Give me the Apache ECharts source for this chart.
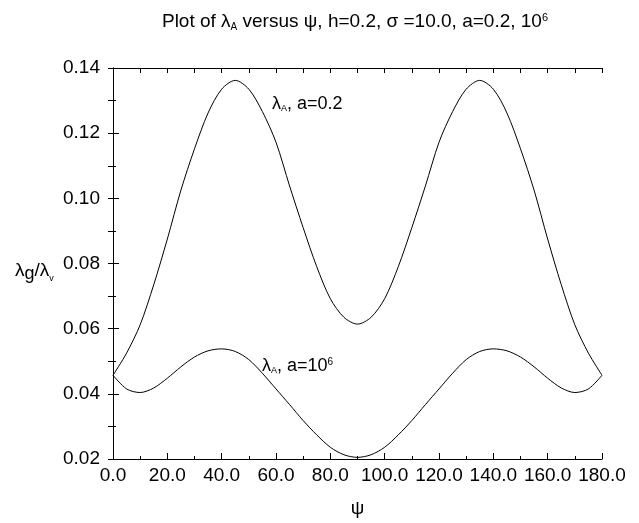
<!DOCTYPE html>
<html>
<head>
<meta charset="utf-8">
<script src="https://cdn.jsdelivr.net/npm/echarts@6/dist/echarts.min.js"></script>
<style>html,body{margin:0;padding:0;background:#fff}#c{width:639px;height:523px}</style>
</head>
<body>
<div id="c"></div>
<script>
// psi values (degrees) for the first half; the curves are symmetric about 90
const psiHalf = [0,5,10,15,20,25,30,35,40,45,50,55,60,65,70,75,80,85,90];
// lambda_A, a=0.2
const upperHalf = [0.0457,0.0525,0.0612,0.0735,0.0875,0.1025,0.1152,0.1262,0.1335,0.1362,0.1335,0.1266,0.1172,0.1038,0.0910,0.0790,0.0692,0.0635,0.0614];
// lambda_A, a=10^6
const lowerHalf = [0.0457,0.0415,0.0404,0.0418,0.0448,0.0483,0.0513,0.0532,0.0538,0.0530,0.0505,0.0463,0.0415,0.0367,0.0318,0.0274,0.0236,0.0213,0.0205];
const xTicks = [0,20,40,60,80,100,120,140,160,180];
const yTicks = [0.02,0.04,0.06,0.08,0.10,0.12,0.14];

function full(vals){
  const pts = psiHalf.map((p,i)=>[p, vals[i]]);
  for (let i = psiHalf.length-2; i >= 0; i--) pts.push([180-psiHalf[i], vals[i]]);
  return pts;
}

const FONT = 'Liberation Sans';
const chart = echarts.init(document.getElementById('c'), null, {renderer:'canvas'});
const axisLine = {show:true, lineStyle:{color:'#000', width:1}};
chart.setOption({
  animation:false,
  backgroundColor:'#fff',
  grid:{left:113, top:68, width:489, height:406},
  xAxis:[{
    type:'value', min:0, max:180, interval:20, position:'bottom',
    axisLine:axisLine,
    axisTick:{show:true, inside:true, length:6, lineStyle:{color:'#000'}},
    minorTick:{show:true, splitNumber:2, length:3, lineStyle:{color:'#000'}},
    splitLine:{show:false},
    axisLabel:{color:'#000', fontFamily:FONT, fontSize:19, margin:7, formatter:v=>v.toFixed(1)},
    name:'ψ', nameLocation:'middle', nameGap:40,
    nameTextStyle:{color:'#000', fontFamily:FONT, fontSize:19}
  },{
    type:'value', min:0, max:180, interval:10, position:'top',
    axisLine:axisLine,
    axisTick:{show:true, inside:true, length:5, lineStyle:{color:'#000'}},
    axisLabel:{show:false}, splitLine:{show:false}
  }],
  yAxis:[{
    type:'value', min:0.02, max:0.14, interval:0.02, position:'left',
    axisLine:axisLine,
    axisTick:{show:true, inside:true, length:6, lineStyle:{color:'#000'}},
    minorTick:{show:true, splitNumber:2, length:3, lineStyle:{color:'#000'}},
    splitLine:{show:false},
    axisLabel:{color:'#000', fontFamily:FONT, fontSize:19, margin:13, formatter:v=>v.toFixed(2)}
  },{
    type:'value', min:0.02, max:0.14, interval:0.01, position:'right',
    axisLine:axisLine,
    axisTick:{show:true, inside:true, length:5, lineStyle:{color:'#000'}},
    axisLabel:{show:false}, splitLine:{show:false}
  }],
  series:[
    {type:'line', name:'a=0.2', data:full(upperHalf), smooth:0.3, showSymbol:false, symbol:'none',
     lineStyle:{color:'#000', width:1}, xAxisIndex:0, yAxisIndex:0},
    {type:'line', name:'a=1e6', data:full(lowerHalf), smooth:0.3, showSymbol:false, symbol:'none',
     lineStyle:{color:'#000', width:1}, xAxisIndex:0, yAxisIndex:0}
  ],
  graphic:[
    {type:'text', x:355, y:22, style:{
      text:'Plot of {l|λ}{sub|A} versus ψ, h=0.2, σ =10.0, a=0.2, 10{sup|6}',
      fontFamily:FONT, fontSize:19, fill:'#000', align:'center', verticalAlign:'middle',
      rich:{
        l:{fontFamily:FONT, fontSize:19, fill:'#000'},
        sub:{fontFamily:FONT, fontSize:10, fill:'#000', verticalAlign:'bottom', padding:[9,0,0,0]},
        sup:{fontFamily:FONT, fontSize:11, fill:'#000', verticalAlign:'top', padding:[0,0,9,0]}
      }}},
    {type:'text', x:272, y:104, style:{
      text:'λ{sub|A}, a=0.2',
      fontFamily:FONT, fontSize:18, fill:'#000', align:'left', verticalAlign:'middle',
      rich:{sub:{fontFamily:FONT, fontSize:9, fill:'#000', verticalAlign:'bottom', padding:[8,0,0,0]}}}},
    {type:'text', x:262, y:366, style:{
      text:'λ{sub|A}, a=10{sup|6}',
      fontFamily:FONT, fontSize:18, fill:'#000', align:'left', verticalAlign:'middle',
      rich:{
        sub:{fontFamily:FONT, fontSize:9, fill:'#000', verticalAlign:'bottom', padding:[8,0,0,0]},
        sup:{fontFamily:FONT, fontSize:10, fill:'#000', verticalAlign:'top', padding:[0,0,8,0]}
      }}},
    {type:'text', x:15, y:271, style:{
      text:'λ{g|g}/λ{v|v}',
      fontFamily:FONT, fontSize:19, fill:'#000', align:'left', verticalAlign:'middle',
      rich:{
        g:{fontFamily:FONT, fontSize:18, fill:'#000', verticalAlign:'bottom', padding:[6,0,0,0]},
        v:{fontFamily:FONT, fontSize:9, fill:'#000', verticalAlign:'bottom', padding:[8,0,0,0]}
      }}}
  ]
});
</script>
</body>
</html>
